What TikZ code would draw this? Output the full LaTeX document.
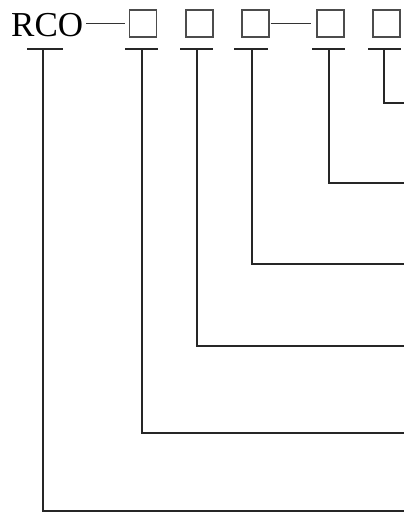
\documentclass[tikz,border=0pt]{standalone}
\usepackage{fontspec}
\setmainfont{Liberation Serif}
\begin{document}
\begin{tikzpicture}[x=1pt,y=-1pt,
  leader/.style={line width=2pt,draw=black!85},
  slot/.style={draw=black!70,line width=1.2pt,minimum width=27pt,minimum height=27pt,inner sep=0pt},
  dashline/.style={line width=1.3pt,draw=black!80}]
\useasboundingbox (0,0) rectangle (404,513);
\node[anchor=base west,inner sep=0pt,font=\fontsize{35}{40}\selectfont] (rco) at (11,37) {RCO};
\node[slot] (b1) at (143,23.5) {};
\node[slot] (b2) at (199.5,23.5) {};
\node[slot] (b3) at (255.5,23.5) {};
\node[slot] (b4) at (330.5,23.5) {};
\node[slot] (b5) at (386.5,23.5) {};
\draw[dashline] ([xshift=3pt]rco.east |- b1.west) -- ([xshift=-4pt]b1.west);
\draw[dashline] ([xshift=1pt]b3.east) -- ([xshift=-5pt]b4.west);
% T markers
\coordinate (t1) at (43,49);
\coordinate (t2) at (142,49);
\coordinate (t3) at (197,49);
\coordinate (t4) at (252,49);
\coordinate (t5) at (329,49);
\coordinate (t6) at (384,49);
\foreach \i/\l/\r in {1/27/63,2/125/158,3/180/213,4/234/268,5/312/345,6/368/401}{
  \draw[leader] (\l,49) -- (\r,49);
}
\coordinate (e1) at (404,511);
\coordinate (e2) at (404,433);
\coordinate (e3) at (404,346);
\coordinate (e4) at (404,264);
\coordinate (e5) at (404,183);
\coordinate (e6) at (404,103);
\foreach \i in {1,...,6}{
  \draw[leader] (t\i) |- (e\i);
}
\end{tikzpicture}
\end{document}
